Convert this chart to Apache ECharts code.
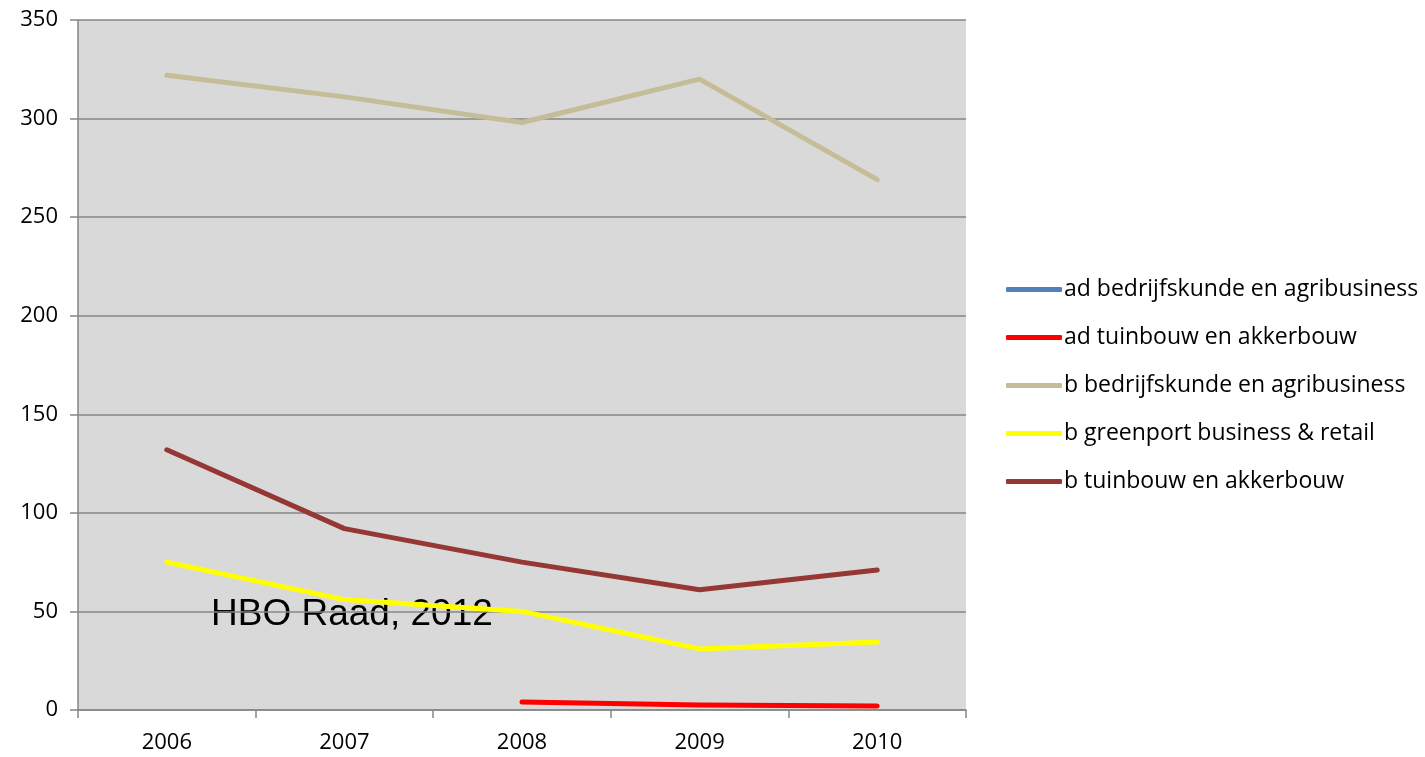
<!DOCTYPE html>
<html>
<head>
<meta charset="utf-8">
<script src="https://cdn.jsdelivr.net/npm/echarts@6/dist/echarts.min.js"></script>
<style>html,body{margin:0;padding:0;background:#fff}#c{width:1425px;height:757px}</style>
</head>
<body>
<div id="c"></div>
<script>
const years = ['2006', '2007', '2008', '2009', '2010'];
const seriesNames = ['ad bedrijfskunde en agribusiness', 'ad tuinbouw en akkerbouw', 'b bedrijfskunde en agribusiness', 'b greenport business & retail', 'b tuinbouw en akkerbouw'];
const adBedrijfskunde = [null, null, null, null, null];
const adTuinbouw = [null, null, 4, 2.5, 2];
const bBedrijfskunde = [322, 311, 298, 320, 269];
const bGreenport = [75, 56, 50, 31, 34.5];
const bTuinbouw = [132, 92, 75, 61, 71];
const seriesColors = ['#4F81BD', '#FF0000', '#C4BD97', '#FFFF00', '#953735'];

const dataSets = [adBedrijfskunde, adTuinbouw, bBedrijfskunde, bGreenport, bTuinbouw];
const chart = echarts.init(document.getElementById('c'));
chart.setOption({
  animation: false,
  backgroundColor: '#ffffff',
  textStyle: { fontFamily: 'Open Sans' },
  grid: { left: 78, right: 459, top: 20, bottom: 47, show: true, backgroundColor: '#D9D9D9', borderWidth: 0 },
  xAxis: {
    type: 'category', data: years, boundaryGap: true,
    axisLine: { lineStyle: { color: '#868686', width: 1.5 } },
    axisTick: { show: true, length: 8, lineStyle: { color: '#868686', width: 1.5 } },
    axisLabel: { color: '#000', fontSize: 22, margin: 22, fontFamily: 'Open Sans' }
  },
  yAxis: {
    type: 'value', min: 0, max: 350, interval: 50,
    axisLine: { show: true, lineStyle: { color: '#868686', width: 1.5 } },
    axisTick: { show: true, length: 8, lineStyle: { color: '#868686', width: 1.5 } },
    splitLine: { lineStyle: { color: '#868686', width: 1.5 } },
    axisLabel: { color: '#000', fontSize: 22, margin: 20, fontFamily: 'Open Sans' }
  },
  legend: {
    orient: 'vertical', left: 1001, top: 273, itemGap: 25,
    itemWidth: 56, itemHeight: 5, icon: 'roundRect',
    textStyle: { fontSize: 23, color: '#000', fontFamily: 'Open Sans', padding: [0, 0, 0, -3] },
    data: seriesNames
  },
  graphic: [{
    type: 'text', left: 211, top: 596,
    style: { text: 'HBO Raad, 2012', fontSize: 37, fontFamily: 'Liberation Sans', fill: '#000' }
  }],
  series: dataSets.map((d, i) => ({
    name: seriesNames[i], type: 'line', data: d,
    showSymbol: false, symbol: 'none',
    lineStyle: { width: 5, color: seriesColors[i], cap: 'round', join: 'round' },
    itemStyle: { color: seriesColors[i] }
  }))
});
</script>
</body>
</html>
